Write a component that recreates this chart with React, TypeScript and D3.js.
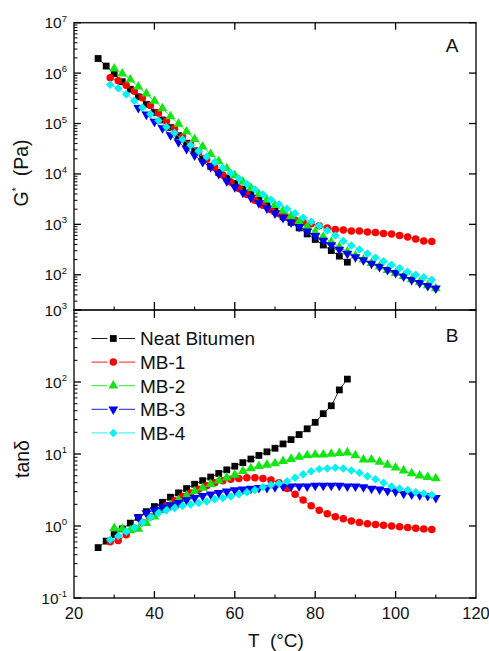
import React from 'react';
import * as d3 from 'd3';

// temperatures (°C)
const tNeat = [26, 28, 30, 32, 34, 36, 38, 40, 42, 44, 46, 48, 50, 52, 54, 56, 58, 60, 62, 64, 66, 68, 70, 72, 74, 76, 78, 80, 82, 84, 86, 88];
const tOdd = [29, 31, 33, 35, 37, 39, 41, 43, 45, 47, 49, 51, 53, 55, 57, 59, 61, 63, 65, 67, 69, 71, 73, 75, 77, 79, 81, 83, 85, 87, 89, 91, 93, 95, 97, 99, 101, 103, 105, 107, 109];
const tEven = [30, 32, 34, 36, 38, 40, 42, 44, 46, 48, 50, 52, 54, 56, 58, 60, 62, 64, 66, 68, 70, 72, 74, 76, 78, 80, 82, 84, 86, 88, 90, 92, 94, 96, 98, 100, 102, 104, 106, 108, 110];
const tMB3 = [36, 38, 40, 42, 44, 46, 48, 50, 52, 54, 56, 58, 60, 62, 64, 66, 68, 70, 72, 74, 76, 78, 80, 82, 84, 86, 88, 90, 92, 94, 96, 98, 100, 102, 104, 106, 108, 110];

// panel A: log10 of G* (Pa)
const gNeat = [6.29, 6.14, 5.99, 5.83, 5.68, 5.53, 5.38, 5.22, 5.07, 4.92, 4.76, 4.61, 4.46, 4.30, 4.15, 4.03, 3.92, 3.81, 3.70, 3.59, 3.48, 3.37, 3.26, 3.15, 3.04, 2.93, 2.81, 2.70, 2.59, 2.48, 2.37, 2.25];
const gMB1 = [5.91, 5.85, 5.76, 5.64, 5.51, 5.36, 5.21, 5.05, 4.90, 4.74, 4.59, 4.44, 4.29, 4.13, 3.98, 3.84, 3.71, 3.59, 3.48, 3.38, 3.29, 3.21, 3.14, 3.08, 3.04, 3.01, 2.97, 2.93, 2.90, 2.89, 2.87, 2.87, 2.85, 2.84, 2.82, 2.81, 2.78, 2.75, 2.71, 2.67, 2.66];
const gMB2 = [6.09, 5.99, 5.87, 5.73, 5.59, 5.45, 5.30, 5.14, 4.99, 4.84, 4.69, 4.54, 4.39, 4.25, 4.11, 3.97, 3.84, 3.72, 3.60, 3.49, 3.38, 3.27, 3.16, 3.05, 2.95, 2.85, 2.75, 2.65, 2.55, 2.46, 2.38, 2.30, 2.23, 2.16, 2.09, 2.03, 1.97, 1.91, 1.85, 1.79, 1.73];
const gMB3 = [5.31, 5.18, 5.04, 4.91, 4.77, 4.63, 4.50, 4.37, 4.24, 4.14, 4.00, 3.86, 3.74, 3.63, 3.53, 3.42, 3.32, 3.22, 3.13, 3.04, 2.95, 2.86, 2.77, 2.68, 2.59, 2.50, 2.42, 2.35, 2.29, 2.22, 2.16, 2.10, 2.04, 1.97, 1.90, 1.84, 1.78, 1.73];
const gMB4 = [5.77, 5.70, 5.58, 5.45, 5.32, 5.19, 5.06, 4.93, 4.81, 4.69, 4.57, 4.45, 4.34, 4.23, 4.12, 4.02, 3.91, 3.80, 3.69, 3.59, 3.49, 3.40, 3.31, 3.22, 3.13, 3.05, 2.97, 2.88, 2.78, 2.67, 2.58, 2.50, 2.42, 2.34, 2.27, 2.20, 2.13, 2.06, 2.00, 1.95, 1.90];

// panel B: log10 of tan delta
const dNeat = [-0.30, -0.21, -0.12, -0.04, 0.04, 0.12, 0.20, 0.27, 0.33, 0.40, 0.46, 0.52, 0.58, 0.63, 0.68, 0.73, 0.78, 0.83, 0.88, 0.93, 0.98, 1.03, 1.08, 1.14, 1.20, 1.27, 1.35, 1.44, 1.56, 1.67, 1.89, 2.04];
const dMB1 = [-0.22, -0.20, -0.12, -0.03, 0.05, 0.13, 0.21, 0.28, 0.35, 0.41, 0.46, 0.51, 0.56, 0.60, 0.63, 0.65, 0.66, 0.67, 0.67, 0.66, 0.64, 0.60, 0.52, 0.44, 0.36, 0.28, 0.22, 0.17, 0.13, 0.10, 0.07, 0.05, 0.03, 0.02, 0.01, 0.00, -0.01, -0.02, -0.03, -0.04, -0.05];
const dMB2 = [-0.03, -0.04, -0.06, -0.04, 0.04, 0.13, 0.22, 0.29, 0.36, 0.42, 0.48, 0.53, 0.58, 0.63, 0.67, 0.71, 0.76, 0.80, 0.83, 0.85, 0.87, 0.90, 0.93, 0.96, 0.98, 0.99, 0.99, 1.00, 1.01, 1.02, 0.98, 0.92, 0.92, 0.89, 0.85, 0.81, 0.77, 0.73, 0.70, 0.68, 0.66];
const dMB3 = [0.12, 0.18, 0.22, 0.26, 0.29, 0.32, 0.36, 0.39, 0.42, 0.44, 0.46, 0.48, 0.50, 0.51, 0.52, 0.53, 0.53, 0.54, 0.55, 0.55, 0.55, 0.55, 0.56, 0.56, 0.56, 0.56, 0.55, 0.55, 0.54, 0.52, 0.51, 0.49, 0.48, 0.45, 0.44, 0.43, 0.42, 0.39];
const dMB4 = [-0.19, -0.14, -0.08, -0.02, 0.05, 0.12, 0.18, 0.22, 0.25, 0.28, 0.30, 0.32, 0.34, 0.37, 0.39, 0.41, 0.44, 0.47, 0.50, 0.54, 0.57, 0.59, 0.62, 0.67, 0.72, 0.76, 0.79, 0.80, 0.81, 0.80, 0.77, 0.74, 0.69, 0.65, 0.60, 0.55, 0.52, 0.50, 0.47, 0.45, 0.43];

const seriesNames = ['Neat Bitumen', 'MB-1', 'MB-2', 'MB-3', 'MB-4'];
const seriesColors = ['#000000', '#ff0000', '#12e612', '#0000f0', '#00f2f2'];
const seriesTemps = [tNeat, tOdd, tEven, tMB3, tOdd];
const seriesG = [gNeat, gMB1, gMB2, gMB3, gMB4];
const seriesTan = [dNeat, dMB1, dMB2, dMB3, dMB4];

const xMajor = [20, 40, 60, 80, 100, 120];
const xMinor = [30, 50, 70, 90, 110];
const gDecades = [1e2, 1e3, 1e4, 1e5, 1e6, 1e7];
const gExp = ['2', '3', '4', '5', '6', '7'];
const tanDecades = [0.1, 1, 10, 100, 1000];
const tanExp = ['-1', '0', '1', '2', '3'];

const font = '"Liberation Sans", Arial, sans-serif';

const L = 74, R = 476, TOP = 22.7, MID = 310, BOT = 598;

const x = d3.scaleLinear().domain([20, 120]).range([L, R]);
const yA = d3.scaleLog().domain([20, 1e7]).range([MID, TOP]);
const yB = d3.scaleLog().domain([0.1, 1000]).range([BOT, MID]);

function markerPath(i: number) {
  const types = [d3.symbolSquare, d3.symbolCircle, d3.symbolTriangle, d3.symbolTriangle, d3.symbolSquare];
  const sizes = [46, 44, 42, 42, 36];
  return d3.symbol().type(types[i]).size(sizes[i])()!;
}
function markerRot(i: number) {
  return i === 3 ? 180 : i === 4 ? 45 : 0;
}

function Marker({ i, cx, cy }: { i: number; cx: number; cy: number }) {
  return (
    <path
      d={markerPath(i)}
      transform={`translate(${cx},${cy}) rotate(${markerRot(i)})`}
      fill={seriesColors[i]}
    />
  );
}

function Series({ i, y, vals }: { i: number; y: any; vals: number[] }) {
  const pts = seriesTemps[i].map((t, k) => [x(t), y(Math.pow(10, vals[k]))] as [number, number]);
  const line = d3.line()(pts)!;
  return (
    <g>
      <path d={line} fill="none" stroke={seriesColors[i]} strokeWidth={0.8} />
      {pts.map((p, k) => (
        <Marker key={k} i={i} cx={p[0]} cy={p[1]} />
      ))}
    </g>
  );
}

function LeftAxis({ y, decades, exps }: { y: any; decades: number[]; exps: string[] }) {
  const minors = (y.ticks() as number[]).filter((v) => {
    const m = v / Math.pow(10, Math.floor(Math.log10(v) + 1e-9));
    return Math.abs(m - 1) > 1e-6;
  });
  return (
    <g>
      {minors.map((v, k) => (
        <line key={'m' + k} x1={L} x2={L + 3.5} y1={y(v)} y2={y(v)} stroke="#000" strokeWidth={1} />
      ))}
      {decades.map((v, k) => (
        <g key={k}>
          <line x1={L} x2={L + 7} y1={y(v)} y2={y(v)} stroke="#000" strokeWidth={1.3} />
          <line x1={R} x2={R - 7} y1={y(v)} y2={y(v)} stroke="#000" strokeWidth={1.3} />
          <text x={67} y={y(v) + 5.5} textAnchor="end" fontSize={15.5} fontFamily={font} fill="#111">
            10
            <tspan dy={-6.5} fontSize={9.5}>{exps[k]}</tspan>
          </text>
        </g>
      ))}
    </g>
  );
}

export default function App() {
  const legendY0 = 338.5;
  const legendStep = 23.6;
  return (
    <svg
      width={489}
      height={651}
      viewBox="0 0 489 651"
      style={{ position: 'absolute', left: 0, top: 0, background: '#fff' }}
    >
      <rect x={0} y={0} width={489} height={651} fill="#fff" />

      {/* data */}
      {seriesG.map((vals, i) => (
        <Series key={'a' + i} i={i} y={yA} vals={vals} />
      ))}
      {seriesTan.map((vals, i) => (
        <Series key={'b' + i} i={i} y={yB} vals={vals} />
      ))}

      {/* frames */}
      <rect x={L} y={TOP} width={R - L} height={MID - TOP} fill="none" stroke="#222" strokeWidth={1.5} />
      <rect x={L} y={MID} width={R - L} height={BOT - MID} fill="none" stroke="#222" strokeWidth={1.5} />

      {/* x ticks */}
      {xMajor.slice(1, -1).map((t) => (
        <g key={'xM' + t}>
          <line x1={x(t)} x2={x(t)} y1={TOP} y2={TOP + 7} stroke="#000" strokeWidth={1.3} />
          <line x1={x(t)} x2={x(t)} y1={MID - 8} y2={MID + 8} stroke="#000" strokeWidth={1.3} />
          <line x1={x(t)} x2={x(t)} y1={BOT} y2={BOT - 7} stroke="#000" strokeWidth={1.3} />
        </g>
      ))}
      {xMinor.map((t) => (
        <g key={'xm' + t}>
          <line x1={x(t)} x2={x(t)} y1={MID} y2={MID - 3.5} stroke="#000" strokeWidth={1.1} />
          <line x1={x(t)} x2={x(t)} y1={BOT} y2={BOT - 3.5} stroke="#000" strokeWidth={1.1} />
        </g>
      ))}
      {xMajor.map((t) => (
        <text key={'xl' + t} x={x(t)} y={619} textAnchor="middle" fontSize={16.5} fontFamily={font} fill="#111">
          {t}
        </text>
      ))}

      {/* y axes */}
      <LeftAxis y={yA} decades={gDecades} exps={gExp} />
      <LeftAxis y={yB} decades={tanDecades} exps={tanExp} />

      {/* axis titles */}
      <text x={276} y={647} textAnchor="middle" fontSize={19} fontFamily={font} fill="#111" style={{ whiteSpace: 'pre' }}>
        {'T  (°C)'}
      </text>
      <text transform="translate(28,173) rotate(-90)" textAnchor="middle" fontSize={19.5} fontFamily={font} fill="#111" style={{ whiteSpace: 'pre' }}>
        G<tspan dy={-8} fontSize={11}>*</tspan>
        <tspan dy={8}>{'  (Pa)'}</tspan>
      </text>
      <text transform="translate(29,459) rotate(-90)" textAnchor="middle" fontSize={19.5} fontFamily={font} fill="#111">
        tanδ
      </text>

      {/* panel labels */}
      <text x={452} y={51.5} textAnchor="middle" fontSize={19} fontFamily={font} fill="#111">A</text>
      <text x={452} y={341.5} textAnchor="middle" fontSize={19} fontFamily={font} fill="#111">B</text>

      {/* legend */}
      {seriesNames.map((name, i) => {
        const cy = legendY0 + i * legendStep;
        return (
          <g key={'lg' + i}>
            <line x1={91.5} x2={107.5} y1={cy} y2={cy} stroke={seriesColors[i]} strokeWidth={0.9} />
            <line x1={119} x2={135} y1={cy} y2={cy} stroke={seriesColors[i]} strokeWidth={0.9} />
            <Marker i={i} cx={113.3} cy={cy} />
            <text x={140} y={cy + 6.8} fontSize={19} fontFamily={font} fill="#111">{name}</text>
          </g>
        );
      })}
    </svg>
  );
}
